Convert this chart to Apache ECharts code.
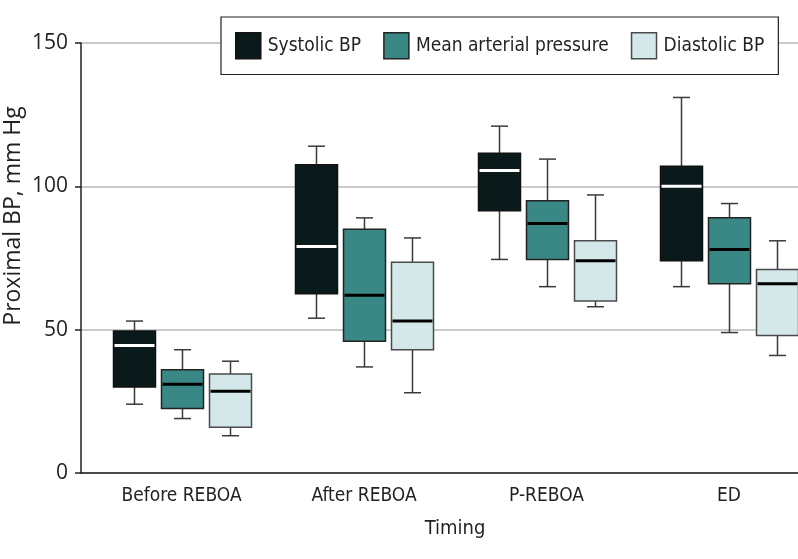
<!DOCTYPE html>
<html>
<head>
<meta charset="utf-8">
<script src="https://cdn.jsdelivr.net/npm/echarts@6/dist/echarts.min.js"></script>
<style>html,body{margin:0;padding:0;background:#fff}#chart{width:798px;height:559px}</style>
</head>
<body>
<div id="chart"></div>
<script>
// Data: [min, Q1, median, Q3, max]
const categories = ['Before REBOA', 'After REBOA', 'P-REBOA', 'ED'];
const seriesNames = ['Systolic BP', 'Mean arterial pressure', 'Diastolic BP'];
const systolic = [
  [24, 30, 44.5, 49.5, 53],
  [54, 62.5, 79, 107.5, 114],
  [74.5, 91.5, 105.5, 111.5, 121],
  [65, 74, 100, 107, 131]
];
const meanArterial = [
  [19, 22.5, 31, 36, 43],
  [37, 46, 62, 85, 89],
  [65, 74.5, 87, 95, 109.5],
  [49, 66, 78, 89, 94]
];
const diastolic = [
  [13, 16, 28.5, 34.5, 39],
  [28, 43, 53, 73.5, 82],
  [58, 60, 74, 81, 97],
  [41, 48, 66, 71, 81]
];
const yTicks = [0, 50, 100, 150];

const TEXT = '#231f20';
const NARROW = "'DejaVu Sans Condensed', 'Liberation Sans Narrow', sans-serif";
const SEGOE = "'Open Sans', 'Noto Sans', sans-serif";
const BOX_W = 42, CAP_W = 17, OFFSET = 48;

const styles = [
  {fill: '#0a1a1a', stroke: '#111111', whisker: '#3a3a3a', median: '#ffffff', off: -OFFSET},
  {fill: '#3a8885', stroke: '#222222', whisker: '#3a3a3a', median: '#000000', off: 0},
  {fill: '#d4e8ea', stroke: '#4a4a4a', whisker: '#3a3a3a', median: '#000000', off: OFFSET}
];

function makeRender(st) {
  return function (params, api) {
    const x = api.value(0);
    const pMin = api.coord([x, api.value(1)]);
    const pQ1 = api.coord([x, api.value(2)]);
    const pMed = api.coord([x, api.value(3)]);
    const pQ3 = api.coord([x, api.value(4)]);
    const pMax = api.coord([x, api.value(5)]);
    const cx = Math.round(pMin[0] + st.off) + 0.5;
    const hw = BOX_W / 2, cw = CAP_W / 2;
    const wStyle = {stroke: st.whisker, lineWidth: 1.5};
    return {
      type: 'group',
      children: [
        {type: 'line', shape: {x1: cx, y1: pMax[1], x2: cx, y2: pQ3[1]}, style: wStyle},
        {type: 'line', shape: {x1: cx, y1: pQ1[1], x2: cx, y2: pMin[1]}, style: wStyle},
        {type: 'line', shape: {x1: cx - cw, y1: pMax[1], x2: cx + cw, y2: pMax[1]}, style: wStyle},
        {type: 'line', shape: {x1: cx - cw, y1: pMin[1], x2: cx + cw, y2: pMin[1]}, style: wStyle},
        {type: 'rect', shape: {x: cx - hw, y: pQ3[1], width: BOX_W, height: pQ1[1] - pQ3[1]},
          style: {fill: st.fill, stroke: st.stroke, lineWidth: 1.5}},
        {type: 'line', shape: {x1: cx - hw + 1, y1: pMed[1], x2: cx + hw - 1, y2: pMed[1]},
          style: {stroke: st.median, lineWidth: 3}}
      ]
    };
  };
}

const seriesData = [systolic, meanArterial, diastolic];
const series = seriesData.map((arr, si) => ({
  name: seriesNames[si],
  type: 'custom',
  renderItem: makeRender(styles[si]),
  encode: {x: 0, y: [1, 2, 3, 4, 5]},
  itemStyle: {color: styles[si].fill, borderColor: styles[si].stroke, borderWidth: 1.5},
  data: arr.map((v, i) => [i + 1].concat(v))
}));

const chart = echarts.init(document.getElementById('chart'), null, {renderer: 'canvas'});
chart.setOption({
  animation: false,
  backgroundColor: '#ffffff',
  grid: {left: 81, right: 0, top: 43, bottom: 86, containLabel: false, outerBoundsMode: 'none'},
  legend: {
    left: 221, top: 17,
    width: 570,
    padding: [15, 14, 15, 14],
    borderColor: TEXT, borderWidth: 1.2,
    backgroundColor: '#ffffff',
    itemWidth: 25, itemHeight: 26, itemGap: 22,
    icon: 'rect',
    textStyle: {fontFamily: NARROW, fontSize: 19, color: TEXT, padding: [0, 0, 0, 2]},
    data: seriesNames.map((n, i) => ({
      name: n,
      itemStyle: {color: styles[i].fill, borderColor: styles[i].stroke, borderWidth: 1.5}
    }))
  },
  xAxis: {
    type: 'value',
    min: 0.449, max: 4.378,
    name: 'Timing',
    nameLocation: 'middle',
    nameGap: 46,
    nameMoveOverlap: false,
    nameTextStyle: {fontFamily: NARROW, fontSize: 20, color: TEXT, padding: [0, 0, 0, 31]},
    axisLine: {show: true, lineStyle: {color: TEXT, width: 1.5}},
    axisTick: {show: false},
    splitLine: {show: false},
    axisLabel: {
      customValues: categories.map((c, i) => i + 1),
      formatter: v => categories[Math.round(v) - 1] || '',
      fontFamily: NARROW, fontSize: 19, color: TEXT, margin: 14
    }
  },
  yAxis: {
    type: 'value',
    min: yTicks[0], max: yTicks[yTicks.length - 1], interval: 50,
    name: 'Proximal BP, mm Hg',
    nameLocation: 'middle',
    nameGap: 56,
    nameMoveOverlap: false,
    nameTextStyle: {fontFamily: SEGOE, fontSize: 23, color: TEXT, padding: [0, 0, 0, 84]},
    axisLine: {show: true, lineStyle: {color: TEXT, width: 1.5}},
    axisTick: {show: true, length: 6, lineStyle: {color: TEXT, width: 1.5}},
    splitLine: {show: true, lineStyle: {color: '#b8b8b8', width: 1.5}},
    axisLabel: {fontFamily: SEGOE, fontSize: 21, color: TEXT, margin: 13}
  },
  series: series
});
</script>
</body>
</html>
